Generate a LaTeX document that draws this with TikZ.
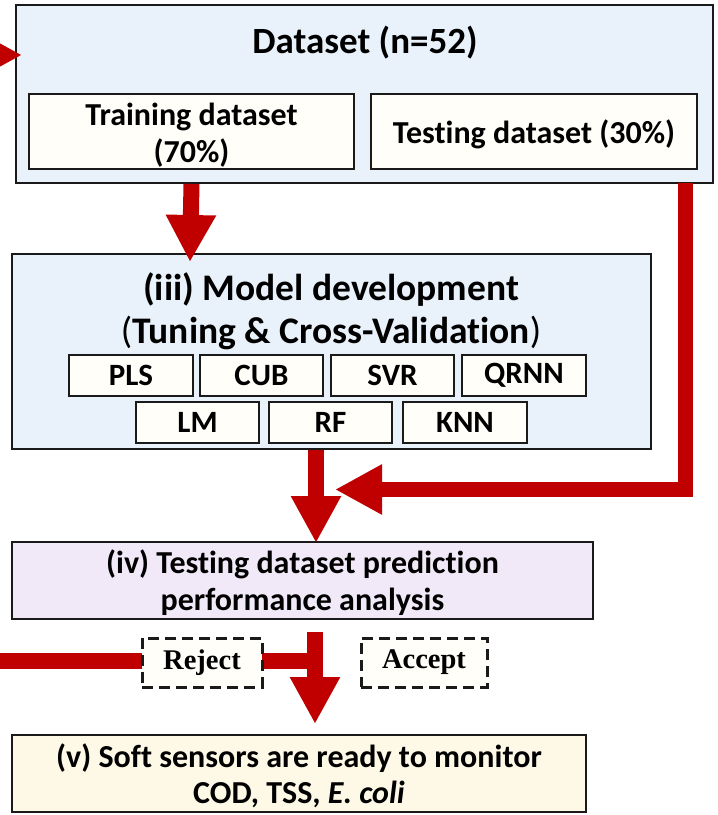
\documentclass[tikz,border=0pt]{standalone}
\usepackage{fontspec}
\setmainfont{Carlito}[Ligatures=NoCommon]
\newfontfamily\tnr{Liberation Serif}
\usetikzlibrary{arrows.meta,calc}
\definecolor{dsblue}{HTML}{E9F1FA}
\definecolor{innerw}{HTML}{FFFEF8}
\definecolor{lav}{HTML}{F1E9F8}
\definecolor{cream}{HTML}{FEF8E6}
\definecolor{arrred}{HTML}{C00000}
\definecolor{edge}{HTML}{1A1A1A}
\begin{document}
\begin{tikzpicture}[x=1pt,y=-1pt,
  box/.style={draw=edge,line width=2pt,inner sep=0pt,align=center,font=\bfseries},
  lbl/.style={inner sep=0pt,align=center},
  algo/.style={box,fill=innerw,minimum width=123pt,minimum height=41pt,font=\bfseries\fontsize{31}{34}\selectfont},
  dbox/.style={draw=edge,line width=3pt,dash pattern=on 11pt off 6pt,fill=innerw,inner sep=0pt,minimum height=49pt,font=\tnr\bfseries\fontsize{28.5}{30}\selectfont},
  blockarrow/.style={draw=arrred,line width=16pt,-{Triangle[width=47pt,length=47pt]}},
  redline/.style={draw=arrred,line width=16pt}]
\useasboundingbox (0,0) rectangle (718,815);
\begin{scope}
\clip (0,0) rectangle (718,815);
% boxes
\node[box,fill=dsblue,minimum width=697pt,minimum height=178pt] (dataset) at (364.5,94) {};
\node[lbl,font=\bfseries\fontsize{37}{40}\selectfont] (dstitle) at (365,43) {Dataset (n=52)};
\node[box,fill=innerw,minimum width=325pt,minimum height=75pt] (train) at (191.5,131.5) {};
\node[lbl,font=\bfseries\fontsize{32}{37}\selectfont] (trainlbl) at (191.5,135) {Training dataset\\(70\%)};
\node[box,fill=innerw,minimum width=326pt,minimum height=75pt] (test) at (534,131.5) {};
\node[lbl,font=\bfseries\fontsize{32}{37}\selectfont] (testlbl) at (534,134) {Testing dataset (30\%)};

\node[box,fill=dsblue,minimum width=639pt,minimum height=195pt] (model) at (331.5,351.5) {};
\node[lbl,font=\bfseries\fontsize{37.5}{43}\selectfont] (mtitle) at (331,311) {(iii) Model development\\{\mdseries(}Tuning \& Cross-Validation{\mdseries)}};
\node[algo,minimum width=124pt] (pls) at (131,375.5) {PLS};
\node[algo] (cub) at (261.5,375.5) {CUB};
\node[algo] (svr) at (392.5,375.5) {SVR};
\node[algo,minimum width=124pt] (qrnn) at (524,375.5) {QRNN};
\node[algo] (lm) at (197.5,422.5) {LM};
\node[algo] (rf) at (330.5,422.5) {RF};
\node[algo,minimum width=124pt] (knn) at (465,422.5) {KNN};

\node[box,fill=lav,minimum width=581pt,minimum height=77pt] (pred) at (302.5,580.5) {};
\node[lbl,font=\bfseries\fontsize{32}{37}\selectfont] (predlbl) at (302.5,583) {(iv) Testing dataset prediction\\performance analysis};
\node[box,fill=cream,minimum width=574pt,minimum height=77pt] (soft) at (299,773.5) {};
\node[lbl,font=\bfseries\fontsize{32}{36}\selectfont] (softlbl) at (299,775.5) {(v) Soft sensors are ready to monitor\\COD, TSS, \textit{E. coli}};

% arrows
\coordinate (tstart) at (685.5,183);
\coordinate (tcorner) at (685.5,489.5);
\coordinate (ttip) at (335,489.5);
\coordinate (rjstart) at (315,661);
\coordinate (offl) at (-40,661);
\coordinate (offu) at (-40,55);
\coordinate (dtip) at (22,55);

\draw[redline] (rjstart) -- (offl) -- (offu);
\draw[blockarrow] (offu) -- (dtip);
\draw[blockarrow] (train.south |- dataset.south) -- ([xshift=-1.5pt,yshift=-9pt]model.north -| train.south);
\draw[blockarrow,line width=15pt] (tstart) -- (tcorner) -- (ttip);
\draw[blockarrow] (model.south -| 316,0) -- ([yshift=-2pt]pred.north -| 316,0);
\draw[blockarrow,shorten <=12pt,shorten >=10pt] (pred.south -| 315,0) -- (soft.north -| 315,0);

\node[dbox,minimum width=120pt] (reject) at (202,662.5) {Reject};
\node[dbox,minimum width=126pt] (accept) at (424,662.5) {Accept};
\end{scope}
\end{tikzpicture}
\end{document}
